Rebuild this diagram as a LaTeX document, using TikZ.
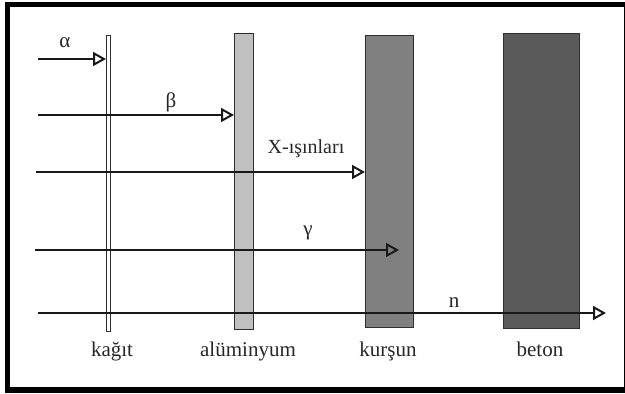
\documentclass[tikz,border=0pt]{standalone}
\usepackage{fontspec}
\setmainfont{Liberation Serif}
\usetikzlibrary{arrows.meta,positioning}
\definecolor{rim}{HTML}{2E2E2E}
\definecolor{alum}{HTML}{C0C0C0}
\definecolor{lead}{HTML}{808080}
\definecolor{conc}{HTML}{5A5A5A}

\begin{document}
\begin{tikzpicture}[x=1pt,y=-1pt,>={Triangle[open,length=13pt,width=14pt]}, bar/.style={draw=rim,line width=1pt,inner sep=0pt,outer sep=0pt}, ray/.style={->,line width=2pt,black!90}, lab/.style={font=\fontsize{21}{24}\selectfont,anchor=base,inner sep=0pt,text=black!85}]
  \useasboundingbox (0,0) rectangle (625,394);
  \draw[line width=5.5pt] (7.5,4.5) rectangle (626.5,390);
  % shields
  \foreach \n/\x/\y/\w/\h/\c in {kagit/108/183/4/296/white, alum/243.5/181/19/296/alum, kursun/389/181/48/292/lead, beton/541/180.5/76/295/conc}{\node[bar,fill=\c,minimum width=\w pt,minimum height=\h pt] (\n) at (\x,\y) {};}
  % sources
  \coordinate (a0) at (38,59);
  \coordinate (b0) at (38,115);
  \coordinate (x0) at (36,172);
  \coordinate (g0) at (35,250);
  \coordinate (g1) at (399,250);
  \coordinate (n0) at (38,313);
  \coordinate (n1) at (606,313);
  \draw[ray] (a0) -- (a0 -| kagit.west);
  \draw[ray] (b0) -- (b0 -| alum.west);
  \draw[ray] (x0) -- (x0 -| kursun.west);
  \draw[ray] (g0) -- (g1);
  \draw[ray] (n0) -- (n1);
  % labels
  \node[lab] (la) at (65,47) {α};
  \node[lab] (lb) at (171,107) {β};
  \node[lab,font=\fontsize{20}{24}\selectfont] (lx) at (306,153) {X-ışınları};
  \node[lab] (lg) at (308,235) {γ};
  \node[lab] (ln) at (454,307) {n};
  \foreach \n/\x/\t in {kagit/112/kağıt, alum/248/alüminyum, kursun/388/kurşun, beton/540/beton}{\node[lab] (t\n) at (\x,356) {\t};}
\end{tikzpicture}
\end{document}
